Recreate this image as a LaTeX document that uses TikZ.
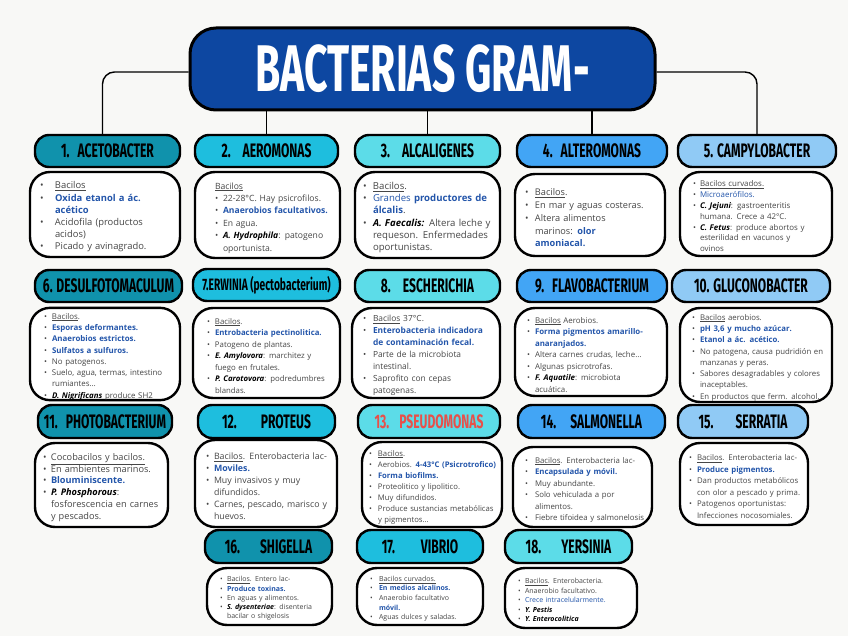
\documentclass[tikz,border=0pt]{standalone}
\usepackage{fontspec}
\setmainfont{Open Sans}
\newfontfamily\headfont[FakeStretch=0.62]{Fira Sans}
\usepackage{tikz}
\usepackage{xcolor}
\definecolor{paper}{RGB}{248,248,246}
\definecolor{titleblue}{RGB}{13,71,161}
\definecolor{tealdark}{RGB}{16,146,172}
\definecolor{cyanmid}{RGB}{30,190,222}
\definecolor{cyanlight}{RGB}{92,220,232}
\definecolor{bluemid}{RGB}{66,165,245}
\definecolor{bluelight}{RGB}{144,202,245}
\definecolor{textgrey}{RGB}{70,70,70}
\definecolor{hlblue}{RGB}{35,85,170}
\definecolor{pseudored}{RGB}{232,80,74}

\newlength\lmarg
\newlength\bulw
\newcommand\fs[2]{\fontsize{#1}{#2}\selectfont}
\newcommand\li{\par\leftskip=\lmarg\rightskip=-20pt plus 1fil
  \hangindent=\bulw\hangafter=1\noindent\makebox[\bulw][l]{\textbullet}}
\newcommand\lo{\par\leftskip=\lmarg\rightskip=-20pt plus 1fil\noindent}
\newcommand\nl{\hfil\break}
\newcommand\hl[1]{\textcolor{hlblue}{\bfseries #1}}
\newcommand\spec[1]{\textcolor{black}{\bfseries\itshape #1}}

\begin{document}
\begin{tikzpicture}[x=1pt, y=-1pt,
    link/.style={line width=1.4pt, rounded corners=12pt},
    titlebox/.style={draw, line width=3pt, rounded corners=26pt, fill=titleblue,
      text=white, minimum width=465, minimum height=82,
      font=\headfont\bfseries\fs{66}{66}},
    head/.style={draw, line width=2.4pt, rounded corners=14pt, minimum height=32,
      inner sep=0pt, font=\headfont\bfseries\fs{19.5}{19.5}},
    lm/.code={\setlength\lmarg{#1}},
    bw/.code={\setlength\bulw{#1}},
    bodybox/.style 2 args={draw, fill=white, line width=2.4pt, rounded corners=20pt,
      minimum width=#1, text width=#1, minimum height=#2,
      align=left, inner sep=0pt, text=textgrey,
      execute at begin node=\setlength\parskip{0pt}}]
  % Background
  \fill[paper] (0,0) rectangle (848,636);
  \useasboundingbox (0,0) rectangle (848,636);
  % Title box
  \node[titlebox] (title) at (422.5,69) {BACTERIAS GRAM-};

  % Row 1
  \node[head, fill=tealdark, minimum width=145] (h1) at (107.5,151) {1.\hspace{8pt}ACETOBACTER};
  \node[head, fill=cyanmid, minimum width=143] (h2) at (266.5,151) {2.\hspace{12pt}AEROMONAS};
  \node[head, fill=cyanlight, minimum width=145] (h3) at (427.5,151) {3.\hspace{12pt}ALCALIGENES};
  \node[head, fill=bluemid, minimum width=150] (h4) at (592,151) {4.\hspace{8pt}ALTEROMONAS};
  \node[head, fill=bluelight, minimum width=158] (h5) at (757,151) {5. CAMPYLOBACTER};

  \node[bodybox={150pt}{85}, lm=10pt, bw=15pt, font=\fs{9.4}{12.2}] (b1) at (105,214.5) {%
    \li \underline{Bacilos}
    \li \hl{Oxida etanol a ác.\nl acético}
    \li Acidofila (productos\nl acidos)
    \li Picado y avinagrado.\par};
  \node[bodybox={145pt}{86}, lm=20pt, bw=8pt, font=\fs{8.6}{12.4}] (b2) at (267.5,215) {%
    \lo\underline{Bacilos}
    \li 22-28°C. Hay psicrofilos.
    \li \hl{Anaerobios facultativos.}
    \li En agua.
    \li \spec{A. Hydrophila}: patogeno\nl oportunista.\par};
  \node[bodybox={145pt}{86}, lm=8pt, bw=10pt, font=\fs{9.6}{12.2}] (b3) at (427.5,215) {%
    \li \underline{Bacilos}.
    \li \textcolor{hlblue}{Grandes} \hl{productores de\nl álcalis}.
    \li \spec{A. Faecalis:} Altera leche y\nl requeson. Enfermedades\nl oportunistas.\par};
  \node[bodybox={150pt}{82}, lm=10pt, bw=10pt, font=\fs{9.2}{12.8}] (b4) at (590,215) {%
    \li \underline{Bacilos}.
    \li En mar y aguas costeras.
    \li Altera alimentos\nl marinos: \hl{olor\nl amoniacal.}\par};
  \node[bodybox={152pt}{84}, lm=13pt, bw=7pt, font=\fs{7.9}{10.8}] (b5) at (756,214) {%
    \li \underline{Bacilos curvados.}
    \li \textcolor{hlblue}{Microaerófilos.}
    \li \spec{C. Jejuni}: gastroenteritis\nl humana. Crece a 42°C.
    \li \spec{C. Fetus}: produce abortos y\nl esterilidad en vacunos y\nl ovinos\par};

  % Row 2
  \node[head, fill=tealdark, minimum width=147] (h6) at (108.5,286) {6. DESULFOTOMACULUM};
  \node[head, fill=cyanmid, minimum width=147, font=\headfont\bfseries\fs{16.5}{16.5}] (h7) at (266.5,285) {7.ERWINIA (pectobacterium)};
  \node[head, fill=cyanlight, minimum width=145] (h8) at (427.5,286) {8.\hspace{12pt}ESCHERICHIA};
  \node[head, fill=bluemid, minimum width=150] (h9) at (592,286) {9.\hspace{8pt}FLAVOBACTERIUM};
  \node[head, fill=bluelight, minimum width=158] (h10) at (751,286) {10. GLUCONOBACTER};

  \node[bodybox={150pt}{92}, lm=14pt, bw=8pt, font=\fs{7.9}{11.3}] (b6) at (105,354) {%
    \li \underline{Bacilos}.
    \li \hl{Esporas deformantes.}
    \li \hl{Anaerobios estrictos.}
    \li \hl{Sulfatos a sulfuros.}
    \li No patogenos.
    \li Suelo, agua, termas, intestino\nl rumiantes…
    \li \spec{D. Nigrificans} produce SH2\par};
  \node[bodybox={147pt}{90}, lm=14pt, bw=8pt, font=\fs{7.8}{11.5}] (b7) at (266.5,353) {%
    \li \underline{Bacilos}.
    \li \hl{Entrobacteria pectinolitica.}
    \li Patogeno de plantas.
    \li \spec{E. Amylovora}: marchitez y\nl fuego en frutales.
    \li \spec{P. Carotovora}: podredumbres\nl blandas.\par};
  \node[bodybox={148pt}{90}, lm=11pt, bw=10pt, font=\fs{8.4}{12}] (b8) at (426,353) {%
    \li \underline{Bacilos} 37°C.
    \li \hl{Enterobacteria indicadora\nl de contaminación fecal.}
    \li Parte de la microbiota\nl intestinal.
    \li Saprofito con cepas\nl patogenas.\par};
  \node[bodybox={152pt}{88}, lm=12pt, bw=8pt, font=\fs{7.9}{11.5}] (b9) at (591,352) {%
    \li \underline{Bacilos} Aerobios.
    \li \hl{Forma pigmentos amarillo-\nl anaranjados.}
    \li Altera carnes crudas, leche…
    \li Algunas psicrotrofas.
    \li \spec{F. Aquatile}: microbiota\nl acuática.\par};
  \node[bodybox={152pt}{94}, lm=12pt, bw=8pt, font=\fs{7.8}{11.3}] (b10) at (756,355) {%
    \li \underline{Bacilos} aerobios.
    \li \hl{pH 3,6 y mucho azúcar.}
    \li \hl{Etanol a ác. acético.}
    \li No patogena, causa pudridión en\nl manzanas y peras.
    \li Sabores desagradables y colores\nl inaceptables.
    \li En productos que ferm. alcohol.\par};

  % Row 3
  \node[head, fill=tealdark, minimum width=134, minimum height=33] (h11) at (105,421.5) {11.\hspace{8pt}PHOTOBACTERIUM};
  \node[head, fill=cyanmid, minimum width=137, minimum height=33] (h12) at (266.5,421.5) {12.\hspace{24pt}PROTEUS};
  \node[head, fill=cyanlight, minimum width=142, minimum height=33, text=pseudored] (h13) at (429,421.5) {13.\hspace{10pt}PSEUDOMONAS};
  \node[head, fill=bluemid, minimum width=147, minimum height=33] (h14) at (591.5,421.5) {14.\hspace{14pt}SALMONELLA};
  \node[head, fill=bluelight, minimum width=130, minimum height=33] (h15) at (743,421.5) {15.\hspace{22pt}SERRATIA};

  \node[bodybox={133pt}{84}, lm=8pt, bw=8pt, font=\fs{9.2}{11.8}] (b11) at (101.5,485) {%
    \li \underline{Cocobacilos y bacilos.}
    \li En ambientes marinos.
    \li \hl{Blouminiscente.}
    \li \spec{P. Phosphorous}:\nl fosforescencia en carnes\nl y pescados.\par};
  \node[bodybox={142pt}{87}, lm=11pt, bw=8pt, font=\fs{8.8}{12}] (b12) at (266,483.5) {%
    \li \underline{Bacilos}. Enterobacteria lac-
    \li \hl{Moviles.}
    \li Muy invasivos y muy\nl difundidos.
    \li Carnes, pescado, marisco y\nl huevos.\par};
  \node[bodybox={140pt}{85}, lm=7pt, bw=9pt, font=\fs{7.7}{11}] (b13) at (432,484.5) {%
    \li \underline{Bacilos}.
    \li Aerobios. \hl{4-43°C (Psicrotrofico)}
    \li \hl{Forma biofilms.}
    \li Proteolitico y lipolitico.
    \li Muy difundidos.
    \li Produce sustancias metabólicas\nl y pigmentos…\par};
  \node[bodybox={139pt}{80}, lm=12pt, bw=10pt, font=\fs{7.8}{11.5}] (b14) at (582.5,487) {%
    \li \underline{Bacilos}. Enterobacteria lac-
    \li \hl{Encapsulada y móvil.}
    \li Muy abundante.
    \li Solo vehiculada a por\nl alimentos.
    \li Fiebre tifoidea y salmonelosis\par};
  \node[bodybox={128pt}{82}, lm=9pt, bw=8pt, font=\fs{7.8}{11.5}] (b15) at (744,484) {%
    \li \underline{Bacilos}. Enterobacteria lac-
    \li \hl{Produce pigmentos.}
    \li Dan productos metabólicos\nl con olor a pescado y prima.
    \li Patogenos oportunistas:\nl Infecciones nocosomiales.\par};

  % Row 4
  \node[head, fill=tealdark, minimum width=127, minimum height=33] (h16) at (268.5,546.5) {16.\hspace{20pt}SHIGELLA};
  \node[head, fill=cyanmid, minimum width=126, minimum height=33] (h17) at (420,546.5) {17.\hspace{26pt}VIBRIO};
  \node[head, fill=cyanlight, minimum width=127, minimum height=33] (h18) at (568.5,546.5) {18.\hspace{20pt}YERSINIA};

  \node[bodybox={125pt}{57}, lm=13pt, bw=7pt, font=\fs{7}{9.3}] (b16) at (269.5,596.5) {%
    \li \underline{Bacilos}. Entero lac-
    \li \hl{Produce toxinas.}
    \li En aguas y alimentos.
    \li \spec{S. dysenteriae}: disenteria\nl bacilar o shigelosis\par};
  \node[bodybox={126pt}{57}, lm=13pt, bw=9pt, font=\fs{7}{9.6}] (b17) at (420,596.5) {%
    \li \underline{Bacilos curvados.}
    \li \hl{En medios alcalinos.}
    \li Anaerobio facultativo\nl \hl{móvil.}
    \li Aguas dulces y saladas.\par};
  \node[bodybox={132pt}{60}, lm=13pt, bw=7pt, font=\fs{7}{9.4}] (b18) at (571,598) {%
    \li \underline{Bacilos}. Enterobacteria.
    \li Anaerobio facultativo.
    \li \textcolor{hlblue}{Crece intracelularmente.}
    \li \spec{Y. Pestis}
    \li \spec{Y. Enterocolitica}\par};

  % Connectors from title
  \draw[link] ([yshift=-3pt]title.west) -| ([xshift=-5pt]h1.north);
  \draw[link] ([yshift=-3pt]title.east) -| (h5.north);
  \foreach \h in {h2,h3,h4}
    \draw[link] (title.south -| \h.north) -- (\h.north);
\end{tikzpicture}
\end{document}
